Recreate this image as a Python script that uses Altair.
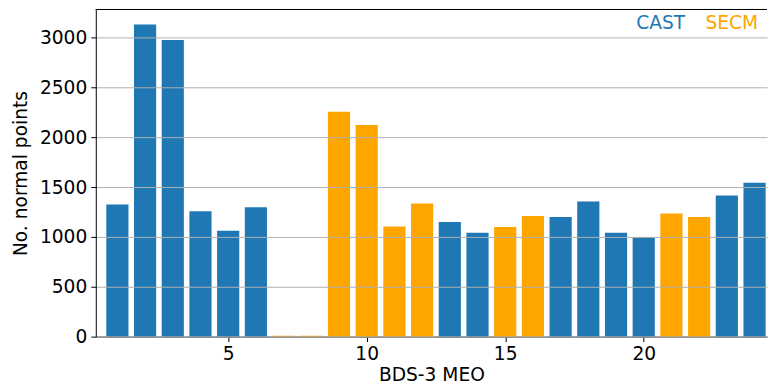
import altair as alt
import pandas as pd

sat = list(range(1, 25))
points = [1326, 3130, 2974, 1258, 1062, 1297, 8, 8,
          2255, 2121, 1104, 1336, 1150, 1042, 1098, 1209,
          1199, 1356, 1042, 996, 1235, 1199, 1415, 1542]
agency = ["CAST"] * 6 + ["SECM"] * 6 + ["CAST"] * 2 + ["SECM"] * 2 + \
         ["CAST"] * 4 + ["SECM"] * 2 + ["CAST"] * 2
legend_labels = ["CAST", "SECM"]
colors = ["#1f77b4", "#ffa500"]

df = pd.DataFrame({"sat": sat, "points": points, "agency": agency})
leg = pd.DataFrame({"label": legend_labels})

FONT = "DejaVu Sans"
FS = 18.67
W, H = 673, 328

xscale = alt.Scale(domain=[0.22, 24.45], nice=False, zero=False)
yscale = alt.Scale(domain=[0, 3280], nice=False)

bars = alt.Chart(df).transform_calculate(
    x0="datum.sat - 0.4", x1="datum.sat + 0.4"
).mark_bar(clip=True).encode(
    x=alt.X("x0:Q", scale=xscale,
            axis=alt.Axis(title="BDS-3 MEO", values=[5, 10, 15, 20], grid=False,
                          tickSize=5, labelPadding=3, titlePadding=2,
                          labelFontSize=FS, titleFontSize=FS,
                          labelFont=FONT, titleFont=FONT, titleFontWeight="normal",
                          domainColor="black", tickColor="black",
                          labelColor="black", titleColor="black")),
    x2="x1:Q",
    y=alt.Y("points:Q", scale=yscale,
            axis=alt.Axis(title="No. normal points", values=[0, 500, 1000, 1500, 2000, 2500, 3000],
                          format="d",
                          grid=True, gridColor="#b0b0b0", gridWidth=1,
                          tickSize=5, labelPadding=4, titlePadding=9,
                          labelFontSize=FS, titleFontSize=FS,
                          labelFont=FONT, titleFont=FONT, titleFontWeight="normal",
                          domainColor="black", tickColor="black",
                          labelColor="black", titleColor="black", zindex=1)),
    y2=alt.datum(0),
    color=alt.Color("agency:N", scale=alt.Scale(domain=legend_labels, range=colors), legend=None),
)

top_spine = alt.Chart(leg).mark_rule(color="black", strokeWidth=1).encode(
    x=alt.value(0), x2=alt.value(W), y=alt.value(0)
)

cast_t = alt.Chart(leg).transform_filter("datum.label == 'CAST'").mark_text(
    font=FONT, fontSize=FS, align="right", baseline="alphabetic", color=colors[0]
).encode(x=alt.value(591), y=alt.value(20), text="label:N")
secm_t = alt.Chart(leg).transform_filter("datum.label == 'SECM'").mark_text(
    font=FONT, fontSize=FS, align="right", baseline="alphabetic", color=colors[1]
).encode(x=alt.value(664), y=alt.value(20), text="label:N")

chart = alt.layer(bars, top_spine, cast_t, secm_t).properties(
    width=W, height=H,
    padding={"left": 3, "top": 0, "right": 0, "bottom": 0},
    background="white",
).configure_view(stroke=None)

chart.save("out.html", embed_options={"renderer": "svg", "actions": False})
